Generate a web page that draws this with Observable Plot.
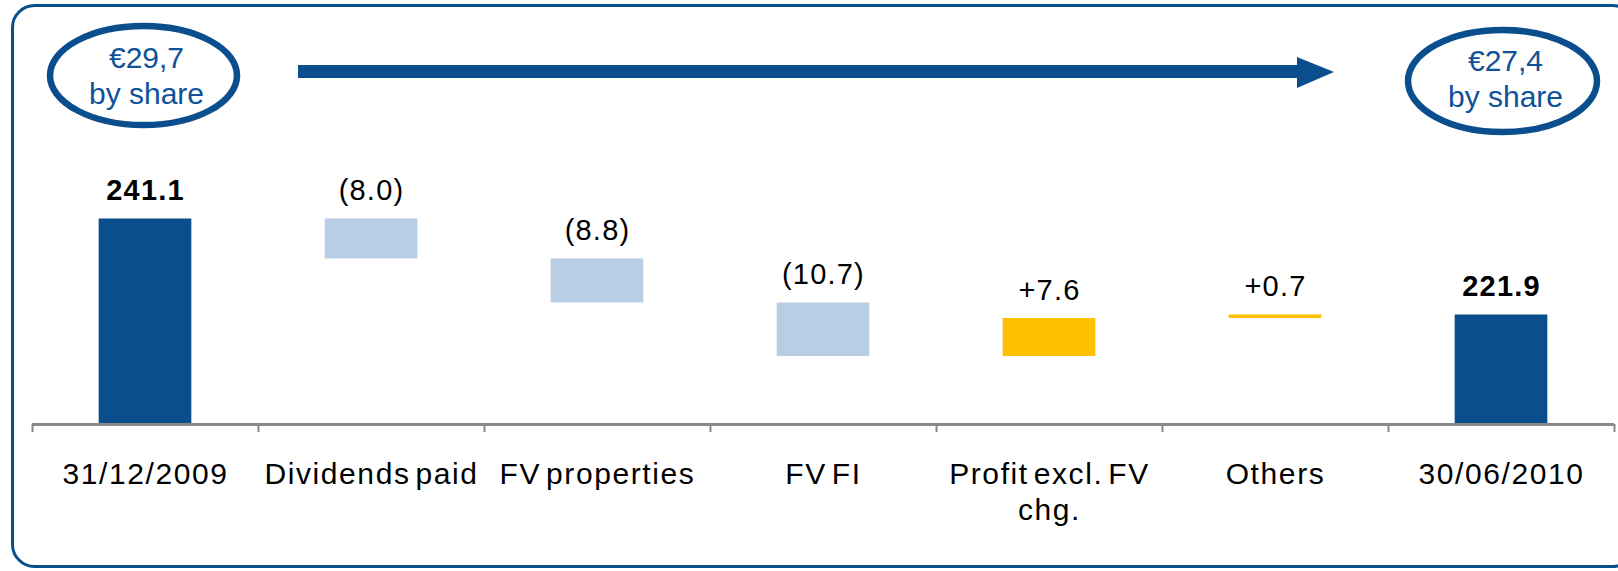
<!DOCTYPE html>
<html>
<head>
<meta charset="utf-8">
<script src="https://cdn.jsdelivr.net/npm/d3@7"></script>
<script src="https://cdn.jsdelivr.net/npm/@observablehq/plot@0.6"></script>
<style>
  html, body { margin: 0; padding: 0; background: #fff; overflow: hidden; }
  #wrap { position: relative; width: 1618px; height: 571px; overflow: hidden;
          font-family: "Liberation Sans", Arial, sans-serif; }
  #chart { position: absolute; left: 0; top: 0; }
  #chart svg text { letter-spacing: 1.2px; }
  #chart svg g[aria-label="x-axis tick label"] text { letter-spacing: 1.6px; word-spacing: -5px; }
  .share { position: absolute; text-align: center; color: #0F5298; font-size: 30px; line-height: 36px; }
  .deco { position: absolute; left: 0; top: 0; }
</style>
</head>
<body>
<div id="wrap">
  <div id="chart"></div>
</div>
<script>
// ---- data ----
const categories = ["31/12/2009", "Dividends paid", "FV properties", "FV FI", "Profit excl. FV\nchg.", "Others", "30/06/2010"];
const changes = [241.1, -8.0, -8.8, -10.7, 7.6, 0.7, 221.9];
const kinds = ["total", "change", "change", "change", "change", "change", "total"];
const valueLabels = ["241.1", "(8.0)", "(8.8)", "(10.7)", "+7.6", "+0.7", "221.9"];
const perShareValues = ["€29,7", "€27,4"];
const perShareNote = "by share";
const axisBase = 200;   // truncated value axis starts here
const axisTop = 280;

// ---- colours ----
const colorTotal = "#0B4E8E";
const colorDown = "#B9CDE5";
const colorUp = "#FFC000";
const axisGray = "#898989";

// ---- waterfall rows ----
let running = 0;
const rows = categories.map((category, i) => {
  let y1, y2;
  if (kinds[i] === "total") { y1 = axisBase; y2 = changes[i]; running = changes[i]; }
  else { y1 = running; y2 = running + changes[i]; running = y2; }
  const fill = kinds[i] === "total" ? colorTotal : (changes[i] < 0 ? colorDown : colorUp);
  return {category, kind: kinds[i], y1, y2, top: Math.max(y1, y2), label: valueLabels[i], fill};
});

const W = 1618, H = 571, mL = 32, mR = 4;
const step = (W - mL - mR) / categories.length;

const chart = Plot.plot({
  width: W, height: H,
  marginTop: 24, marginBottom: 147, marginLeft: mL, marginRight: mR,
  style: {fontFamily: "'Liberation Sans', Arial, sans-serif", color: "#000", background: "transparent"},
  x: {type: "band", domain: categories, paddingInner: 0.59, paddingOuter: 0.295, round: false, axis: null},
  y: {domain: [axisBase, axisTop], axis: null},
  color: {type: "identity"},
  marks: [
    Plot.barY(rows, {x: "category", y1: "y1", y2: "y2", fill: "fill"}),
    Plot.ruleY([axisBase], {stroke: axisGray, strokeWidth: 3}),
    Plot.ruleX(categories, {x: d => d, y1: axisBase, y2: axisBase - 1.6, dx: -step / 2, stroke: axisGray, strokeWidth: 2}),
    Plot.ruleX(categories.slice(-1), {x: d => d, y1: axisBase, y2: axisBase - 1.6, dx: step / 2, stroke: axisGray, strokeWidth: 2}),
    Plot.text(rows.filter(d => d.kind === "total"), {x: "category", y: "top", text: "label", lineAnchor: "bottom", dy: -19, fontSize: 29, fontWeight: "bold", fill: "#000"}),
    Plot.text(rows.filter(d => d.kind !== "total"), {x: "category", y: "top", text: "label", lineAnchor: "bottom", dy: -19, fontSize: 29, fill: "#000"}),
    Plot.axisX({tickSize: 0, tickPadding: 34, fontSize: 30, lineHeight: 1.2, label: null, fill: "#000", tickFormat: d => d})
  ]
});
document.getElementById("chart").appendChild(chart);

// ---- decorations: frame, per-share ovals and arrow ----
const wrap = document.getElementById("wrap");
const ns = "http://www.w3.org/2000/svg";
const deco = document.createElementNS(ns, "svg");
deco.setAttribute("class", "deco");
deco.setAttribute("width", W);
deco.setAttribute("height", H);
const ovals = [
  {cx: 143.5, cy: 75.5, rx: 93.5, ry: 49.5, textTop: 40},
  {cx: 1502.5, cy: 81, rx: 94.5, ry: 51, textTop: 43}
];
deco.innerHTML = `
  <rect x="12.5" y="5.5" width="1622" height="561" rx="22" ry="22" fill="none" stroke="${colorTotal}" stroke-width="3"/>
  <rect x="298" y="65" width="1002" height="13" fill="${colorTotal}"/>
  <polygon points="1297,57 1334,72 1297,88" fill="${colorTotal}"/>
  ${ovals.map(o => `<ellipse cx="${o.cx}" cy="${o.cy}" rx="${o.rx}" ry="${o.ry}" fill="none" stroke="${colorTotal}" stroke-width="6.5"/>`).join("")}
`;
wrap.appendChild(deco);

perShareValues.forEach((v, i) => {
  const o = ovals[i];
  const t = document.createElement("div");
  t.className = "share";
  Object.assign(t.style, {left: (o.cx - 100 + 3) + "px", top: o.textTop + "px", width: "200px"});
  t.innerHTML = v + "<br>" + perShareNote;
  wrap.appendChild(t);
});
</script>
</body>
</html>
